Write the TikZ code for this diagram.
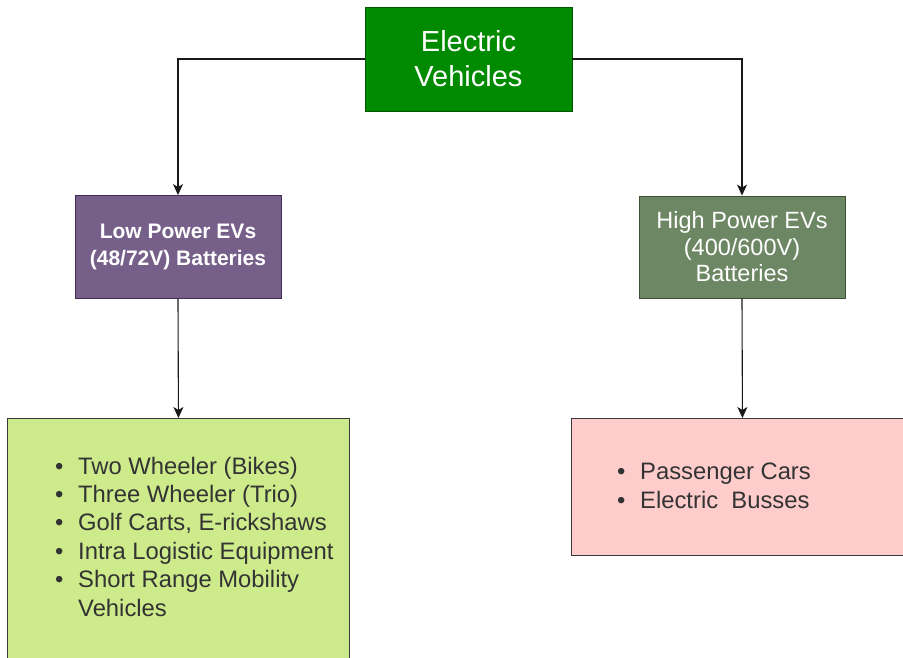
\documentclass[tikz,border=0pt]{standalone}
\usepackage{fontspec}
\setmainfont{Liberation Sans}
\usetikzlibrary{arrows.meta}
\definecolor{evfill}{HTML}{008A00}
\definecolor{evline}{HTML}{005700}
\definecolor{lowfill}{HTML}{76608A}
\definecolor{lowline}{HTML}{432D57}
\definecolor{highfill}{HTML}{6D8764}
\definecolor{highline}{HTML}{3A5431}
\definecolor{lowlistfill}{HTML}{CDEB8B}
\definecolor{highlistfill}{HTML}{FFCCCC}
\definecolor{listline}{HTML}{36393D}
\newcommand{\bul}{\makebox[23pt][l]{•}}
\begin{document}
\begin{tikzpicture}[x=1pt, y=-1pt,
  box/.style={draw, align=center, inner sep=0pt, line width=0.9pt, text=white},
  list/.style={draw=listline, anchor=north west, inner sep=0pt, minimum width=342pt, line width=0.9pt},
  items/.style={anchor=base west, align=left, inner sep=0pt, text=black!80, font=\fontsize{23.8}{28.4}\selectfont},
  arr/.style={-{Stealth[length=11pt,width=10pt,inset=3pt]}, line width=1.1pt, draw=black!90}
]
\useasboundingbox (0,0) rectangle (903,657);
\clip (0,0) rectangle (903,657);
\node[box, fill=evfill, draw=evline, minimum width=207pt, minimum height=104pt, font=\fontsize{29}{35}\selectfont] (ev) at (468.5,59) {Electric\\Vehicles};
\node[box, fill=lowfill, draw=lowline, minimum width=206pt, minimum height=103pt, font=\bfseries\fontsize{21}{26.7}\selectfont] (low) at (178,247) {Low Power EVs\\(48/72V) Batteries};
\node[box, fill=highfill, draw=highline, minimum width=206pt, minimum height=102pt, font=\fontsize{23.5}{26.5}\selectfont] (high) at (742,247) {High Power EVs\\(400/600V)\\Batteries};
\node[list, fill=lowlistfill, minimum height=300pt] (lowlist) at (7,418) {};
\node[list, fill=highlistfill, minimum height=137pt] (highlist) at (571,418) {};
% anchor base is the last line of the list
\node[items] (lowitems) at (55,616) {\bul Two Wheeler (Bikes)\\\bul Three Wheeler (Trio)\\\bul Golf Carts, E-rickshaws\\\bul Intra Logistic Equipment\\\bul Short Range Mobility\\\hspace*{23pt}Vehicles};
\node[items] (highitems) at (617,508) {\bul Passenger Cars\\\bul Electric\ \ Busses};
\draw[arr] (ev.west) -| (low.north);
\draw[arr] (ev.east) -| (high.north);
\draw[arr] (low.south) -- (lowlist.north);
\draw[arr] (high.south) -- (highlist.north);
\end{tikzpicture}
\end{document}
